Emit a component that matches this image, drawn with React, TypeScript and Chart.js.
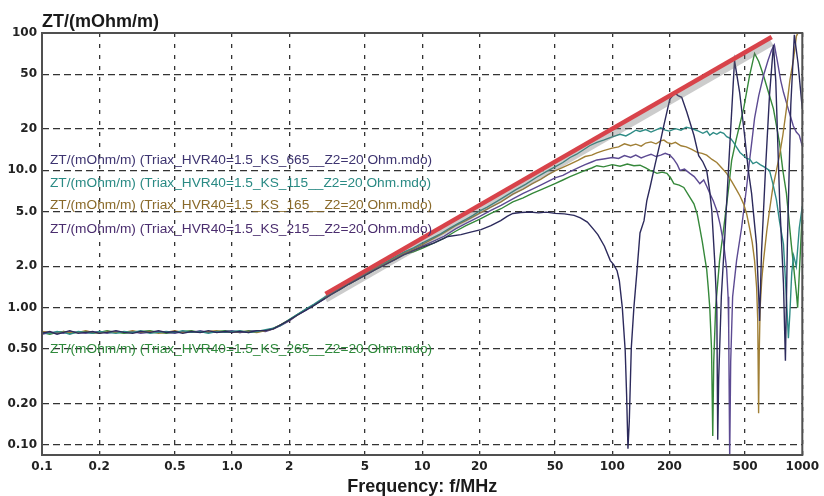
import React, { useEffect, useRef } from "react";
import { Chart, registerables } from "chart.js";

Chart.register(...registerables);

type P = [number, number];

// ---- shared low-frequency grid (MHz) ----
const fLow = [
  0.1, 0.11, 0.12, 0.13, 0.14,
  0.155, 0.17, 0.185, 0.2, 0.22,
  0.245, 0.27, 0.3, 0.33, 0.37,
  0.41, 0.45, 0.5, 0.55, 0.61,
  0.68, 0.75, 0.83, 0.92, 1.0,
  1.1, 1.22, 1.35, 1.5, 1.65,
  1.8, 2.0, 2.2, 2.45, 2.7,
  3.0, 3.3, 3.7, 4.1, 4.6,
  5.1, 5.7, 6.4, 7.2, 8.0,
];

// ---- ZT values (mOhm/m) on the low grid ----
const low665 = [
  0.65, 0.67, 0.64, 0.66, 0.68,
  0.65, 0.66, 0.67, 0.65, 0.66,
  0.68, 0.66, 0.65, 0.67, 0.66,
  0.68, 0.66, 0.67, 0.65, 0.67,
  0.66, 0.68, 0.66, 0.67, 0.66,
  0.67, 0.66, 0.68, 0.68, 0.7,
  0.75, 0.81, 0.88, 0.96, 1.04,
  1.14, 1.24, 1.36, 1.48, 1.61,
  1.74, 1.9, 2.06, 2.24, 2.42,
];
const low115 = [
  0.66, 0.65, 0.67, 0.66, 0.64,
  0.67, 0.66, 0.65, 0.67, 0.66,
  0.65, 0.67, 0.66, 0.68, 0.65,
  0.66, 0.67, 0.66, 0.68, 0.66,
  0.67, 0.65, 0.67, 0.66, 0.67,
  0.68, 0.66, 0.67, 0.69, 0.71,
  0.74, 0.82, 0.89, 0.98, 1.06,
  1.17, 1.27, 1.4, 1.52, 1.66,
  1.8, 1.97, 2.14, 2.34, 2.54,
];
const low165 = [
  0.67, 0.66, 0.65, 0.67, 0.66,
  0.66, 0.68, 0.66, 0.65, 0.67,
  0.66, 0.66, 0.68, 0.66, 0.67,
  0.65, 0.66, 0.68, 0.66, 0.67,
  0.66, 0.67, 0.68, 0.66, 0.66,
  0.67, 0.67, 0.66, 0.68, 0.7,
  0.75, 0.81, 0.88, 0.97, 1.05,
  1.15, 1.26, 1.38, 1.5, 1.64,
  1.78, 1.94, 2.11, 2.3, 2.5,
];
const low215 = [
  0.64, 0.66, 0.66, 0.65, 0.67,
  0.66, 0.65, 0.66, 0.67, 0.65,
  0.67, 0.66, 0.67, 0.65, 0.66,
  0.67, 0.66, 0.65, 0.67, 0.66,
  0.68, 0.66, 0.66, 0.67, 0.68,
  0.66, 0.67, 0.68, 0.67, 0.7,
  0.74, 0.8, 0.88, 0.96, 1.05,
  1.14, 1.25, 1.37, 1.49, 1.62,
  1.77, 1.93, 2.09, 2.28, 2.47,
];
const low265 = [
  0.66, 0.64, 0.66, 0.67, 0.65,
  0.66, 0.67, 0.65, 0.66, 0.68,
  0.66, 0.65, 0.66, 0.67, 0.68,
  0.66, 0.65, 0.66, 0.67, 0.68,
  0.66, 0.66, 0.67, 0.68, 0.67,
  0.66, 0.68, 0.67, 0.68, 0.71,
  0.75, 0.82, 0.89, 0.97, 1.04,
  1.15, 1.25, 1.36, 1.48, 1.61,
  1.75, 1.9, 2.07, 2.25, 2.44,
];

// ---- high-frequency parts [f MHz, ZT] ----
const hi665: P[] = [
  [9, 2.6], [10, 2.76], [11.5, 2.95], [13.7, 3.3], [16, 3.4], [18, 3.55], [20.4, 3.7], [23, 3.95],
  [25.9, 4.3], [28, 4.62], [30, 4.85], [33, 4.93], [37, 4.97], [41, 4.9], [45, 4.96], [50, 4.86],
  [56, 4.82], [63, 4.7], [68, 4.5], [74, 4.2], [80, 3.7], [84, 3.4], [91, 2.8], [97.7, 2.2],
  [102, 2.05], [106, 1.86], [109, 1.57], [113, 1.0], [117, 0.49], [119, 0.235], [121, 0.094],
  [123, 0.15], [126, 0.51], [130, 1.0], [135, 1.86], [140, 3.5], [147, 4.3], [152, 6.0], [158, 7.5],
  [168, 11.0], [178, 15.5], [187, 21.3], [201, 33], [214, 36.5], [222, 35], [232, 34], [247, 26.5],
  [269, 18], [285, 12.8], [300, 11.5], [314, 10], [326, 7], [334, 5.1], [346, 2.2], [355, 1.0],
  [359, 0.109], [363, 0.3], [375, 1.2], [392, 3.5], [405, 8], [420, 20], [432, 40], [440, 63],
  [452, 50], [468, 37], [497, 18], [520, 10], [541, 6.8], [574, 2.9], [590, 1.2], [596, 0.8],
  [610, 2.5], [640, 10], [672, 35], [705, 82], [725, 45], [760, 6], [796, 1.5], [815, 0.41],
  [835, 3], [870, 30], [908, 97], [950, 60], [1000, 28],
];
const hi115: P[] = [
  [9, 2.72], [10, 2.95], [11, 3.15], [12.5, 3.45], [14, 3.8], [15.5, 4.1], [17, 4.4], [18.5, 4.7],
  [20, 5.05], [22, 5.4], [25, 6.0], [28, 6.6], [31, 7.2], [35, 7.9], [40, 8.9], [45, 9.8],
  [50, 10.6], [55, 11.4], [60, 12.4], [65, 13.1], [70, 14.0], [76, 15.1], [83, 16.0], [90, 16.6],
  [100, 17.5], [110, 18.3], [118, 17.8], [125, 18.6], [133, 19.6], [140, 19.2], [150, 19.8],
  [160, 19.0], [170, 19.7], [180, 20.4], [190, 19.6], [200, 19.3], [215, 20.1], [230, 19.6],
  [245, 20.6], [260, 20.2], [279, 19.5], [300, 18.6], [315, 19.3], [326, 18.0], [340, 18.8],
  [355, 18.3], [370, 19.0], [386, 18.6], [400, 17.6], [420, 17.0], [435, 16.0], [450, 14.8],
  [470, 13.5], [490, 12.8], [509, 12.2], [530, 12.0], [550, 11.2], [574, 11.5], [600, 11.0],
  [630, 10.6], [650, 10.3], [672, 10.0], [700, 8.0], [731, 6.1], [760, 4.2], [796, 2.9],
  [815, 1.6], [830, 1.0], [845, 0.6], [860, 0.9], [880, 1.8], [900, 2.4], [930, 2.0],
  [964, 3.8], [1000, 5.5],
];
const hi165: P[] = [
  [9, 2.68], [10, 2.88], [11.5, 3.2], [13, 3.5], [15, 3.95], [17, 4.3], [20, 4.85], [23, 5.4],
  [26, 5.9], [30, 6.7], [34, 7.3], [38, 8.0], [42, 8.6], [46, 9.3], [50, 9.9], [55, 10.5],
  [60, 11.1], [66, 11.8], [72, 12.6], [78, 12.9], [83, 13.4], [90, 13.9], [100, 14.5], [108, 14.8],
  [116, 15.6], [125, 15.1], [133, 15.5], [142, 15.0], [150, 15.8], [160, 16.1], [170, 15.6],
  [180, 16.4], [187, 16.6], [195, 15.9], [205, 15.6], [215, 16.0], [230, 15.1], [245, 14.8],
  [262, 14.2], [280, 13.5], [297, 13.3], [314, 12.9], [335, 12.0], [355, 11.4], [375, 10.5],
  [400, 9.5], [425, 8.3], [451, 7.2], [470, 6.5], [491, 5.7], [510, 4.8], [528, 3.8], [545, 3.0],
  [561, 2.2], [575, 1.4], [583, 0.8], [589, 0.17], [594, 0.5], [600, 1.0], [612, 1.6], [625, 2.2],
  [650, 3.6], [672, 5.1], [700, 7.5], [731, 10.0], [760, 13], [790, 18], [825, 28], [860, 45],
  [900, 65], [931, 95], [1000, 115],
];
const hi215: P[] = [
  [9, 2.63], [10, 2.8], [11.5, 3.05], [13, 3.3], [15, 3.75], [17, 4.1], [20, 4.6], [23, 5.1],
  [26, 5.55], [30, 6.2], [34, 6.8], [38, 7.3], [42, 7.8], [46, 8.3], [50, 8.8], [55, 9.2],
  [60, 9.8], [66, 10.4], [72, 11.0], [78, 11.5], [83, 11.9], [90, 12.1], [100, 12.4], [108, 12.2],
  [116, 12.8], [125, 12.4], [133, 12.9], [142, 12.3], [150, 12.7], [160, 13.1], [170, 12.6],
  [180, 12.9], [190, 13.3], [201, 12.9], [210, 12.1], [220, 11.0], [227, 10.0], [240, 10.2],
  [256, 9.5], [270, 9.0], [289, 8.0], [303, 8.5], [315, 7.6], [326, 6.8], [340, 6.0], [355, 5.1],
  [370, 4.0], [386, 2.9], [400, 1.9], [407, 1.2], [410, 0.7], [415, 0.08], [420, 0.4], [430, 1.2],
  [451, 2.2], [479, 3.8], [509, 7.5], [528, 11.8], [545, 17], [561, 24], [590, 35], [625, 49],
  [660, 63], [689, 75], [713, 82], [740, 62], [770, 45], [796, 37], [850, 27], [897, 21],
  [930, 19], [964, 18], [1000, 15],
];
const hi265: P[] = [
  [9, 2.55], [10, 2.7], [11.5, 2.95], [13, 3.2], [15, 3.6], [17, 3.95], [20, 4.4], [23, 4.85],
  [26, 5.25], [30, 5.9], [34, 6.3], [38, 6.8], [42, 7.2], [46, 7.6], [50, 8.0], [55, 8.5],
  [60, 9.0], [66, 9.5], [72, 10.0], [78, 10.4], [83, 10.8], [90, 10.6], [100, 11.0], [110, 10.7],
  [120, 11.1], [130, 10.8], [140, 10.9], [150, 10.4], [158, 10.0], [165, 9.8], [172, 9.5],
  [183, 9.7], [194, 9.5], [203, 8.8], [211, 8.0], [225, 7.8], [238, 7.5], [252, 6.6], [269, 5.7],
  [280, 4.8], [289, 3.8], [298, 3.0], [307, 2.3], [314, 1.9], [320, 1.4], [326, 1.0], [333, 0.5],
  [338, 0.116], [342, 0.4], [350, 1.0], [367, 2.2], [386, 3.8], [410, 7.5], [425, 11.8],
  [450, 17], [491, 28], [528, 49], [561, 71], [590, 62], [625, 49], [660, 38], [705, 28],
  [758, 16], [790, 10], [825, 6.8], [875, 2.9], [931, 1.27], [945, 1.0], [965, 1.8], [1000, 5.0],
];

// ---- red asymptote line ----
const redLine: P[] = [[3.1, 1.26], [690, 93.5]];
const redShadow: P[] = [[3.1, 1.15], [690, 85.5]];

// ---- ticks ----
const xTicks = [0.1, 0.2, 0.5, 1, 2, 5, 10, 20, 50, 100, 200, 500, 1000];
const xTickLabels = ["0.1", "0.2", "0.5", "1.0", "2", "5", "10", "20", "50", "100", "200", "500", "1000"];
const yTicks = [0.1, 0.2, 0.5, 1, 2, 5, 10, 20, 50, 100];
const yTickLabels = ["0.10", "0.20", "0.50", "1.00", "2.0", "5.0", "10.0", "20", "50", "100"];

const seriesNames = [
  "ZT/(mOhm/m) (Triax_HVR40=1.5_KS_665__Z2=20 Ohm.mdo)",
  "ZT/(mOhm/m) (Triax_HVR40=1.5_KS_115__Z2=20 Ohm.mdo)",
  "ZT/(mOhm/m) (Triax_HVR40=1.5_KS_165__Z2=20 Ohm.mdo)",
  "ZT/(mOhm/m) (Triax_HVR40=1.5_KS_215__Z2=20 Ohm.mdo)",
  "ZT/(mOhm/m) (Triax_HVR40=1.5_KS_265__Z2=20 Ohm.mdo)",
];
const lineColors = ["#2c2a5c", "#2f8c86", "#a07f35", "#5c4a92", "#35883a"];
const textColors = ["#3d3470", "#2a8a84", "#8a6a2a", "#4a2d6e", "#2f8a3c"];
const legendOffsets = [127, 150, 172, 196, 316];

const toPts = (low: number[], hi: P[]) => [
  ...fLow.map((f, i) => ({ x: f, y: low[i] })),
  ...hi.map(([x, y]) => ({ x, y })),
];

export default function App() {
  const ref = useRef<HTMLCanvasElement | null>(null);

  useEffect(() => {
    if (!ref.current) return;
    const series = [
      toPts(low665, hi665),
      toPts(low115, hi115),
      toPts(low165, hi165),
      toPts(low215, hi215),
      toPts(low265, hi265),
    ];

    const decor = {
      id: "decor",
      beforeDraw(chart: any) {
        const ctx = chart.ctx;
        ctx.save();
        ctx.fillStyle = "#ffffff";
        ctx.fillRect(0, 0, chart.width, chart.height);
        ctx.restore();
      },
      afterDatasetsDraw(chart: any) {
        const ctx = chart.ctx;
        const a = chart.chartArea;
        ctx.save();
        ctx.strokeStyle = "#505050";
        ctx.lineWidth = 2;
        ctx.setLineDash([]);
        ctx.strokeRect(a.left, a.top, a.right - a.left, a.bottom - a.top);
        ctx.font = "13.7px 'Liberation Sans', Arial, sans-serif";
        ctx.textBaseline = "middle";
        ctx.textAlign = "left";
        seriesNames.forEach((n, i) => {
          ctx.fillStyle = textColors[i];
          ctx.fillText(n, a.left + 8, a.top + legendOffsets[i]);
        });
        ctx.fillStyle = "#1a1a1a";
        ctx.font = "bold 18px 'Liberation Sans', Arial, sans-serif";
        ctx.textBaseline = "alphabetic";
        ctx.fillText("ZT/(mOhm/m)", a.left, a.top - 6);
        ctx.textAlign = "center";
        ctx.fillText("Frequency: f/MHz", (a.left + a.right) / 2, chart.height - 4);
        ctx.restore();
      },
    };

    const lineDs = (data: any[], color: string, width: number) => ({
      data,
      borderColor: color,
      backgroundColor: color,
      borderWidth: width,
      pointRadius: 0,
      tension: 0,
      fill: false,
    });

    const tickFont = { family: "'DejaVu Sans', sans-serif", size: 12, weight: "bold" };

    const chart = new Chart(ref.current, {
      type: "line",
      data: {
        datasets: [
          lineDs(redLine.map(([x, y]) => ({ x, y })), "#d8434a", 4.5),
          lineDs(redShadow.map(([x, y]) => ({ x, y })), "rgba(110,110,110,0.35)", 7),
          ...series.map((d, i) => lineDs(d, lineColors[i], 1.4)),
        ],
      },
      options: {
        responsive: false,
        animation: false,
        devicePixelRatio: 1,
        layout: { padding: { top: 33, right: 18, left: 0, bottom: 0 } },
        plugins: { legend: { display: false }, tooltip: { enabled: false }, title: { display: false } },
        scales: {
          x: {
            type: "logarithmic",
            min: 0.1,
            max: 1000,
            afterBuildTicks: (scale: any) => {
              scale.ticks = xTicks.map((v) => ({ value: v }));
            },
            afterFit: (scale: any) => {
              scale.height = 41;
            },
            ticks: {
              autoSkip: false,
              maxRotation: 0,
              padding: 5,
              color: "#222",
              font: tickFont,
              callback: (_v: any, i: number) => xTickLabels[i],
            },
            grid: { color: "#333333", lineWidth: 1.3, drawTicks: false },
            border: { display: false, dash: [4, 7] },
          },
          y: {
            type: "logarithmic",
            min: 0.0845,
            max: 100,
            afterBuildTicks: (scale: any) => {
              scale.ticks = yTicks.map((v) => ({ value: v }));
            },
            afterFit: (scale: any) => {
              scale.width = 42;
            },
            ticks: {
              autoSkip: false,
              padding: 5,
              color: "#222",
              font: tickFont,
              callback: (_v: any, i: number) => yTickLabels[i],
            },
            grid: { color: "#333333", lineWidth: 1.3, drawTicks: false },
            border: { display: false, dash: [7, 4] },
          },
        },
      },
      plugins: [decor],
    } as any);

    return () => chart.destroy();
  }, []);

  return (
    <div style={{ position: "fixed", left: 0, top: 0, width: 824, height: 496, background: "#fff" }}>
      <canvas ref={ref} width={824} height={496} style={{ width: 824, height: 496, display: "block" }} />
    </div>
  );
}
